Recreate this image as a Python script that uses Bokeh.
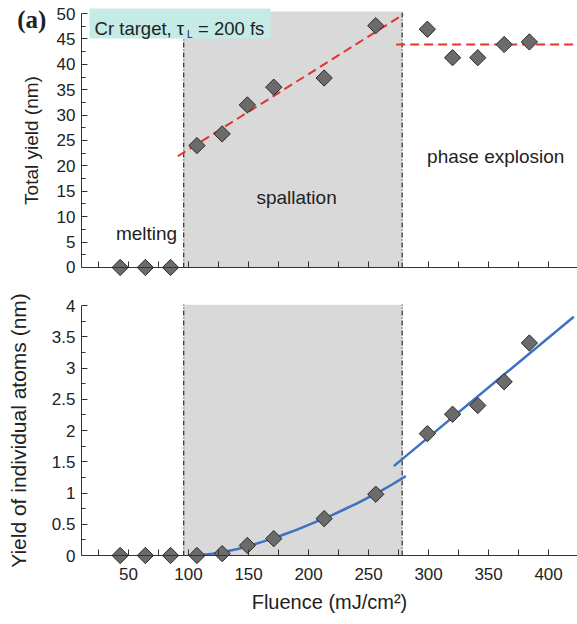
import numpy as np
from bokeh.plotting import figure
from bokeh.layouts import column
from bokeh.models import (FixedTicker, BoxAnnotation, Label, Range1d,
                          CustomJSTickFormatter)
from bokeh.embed import file_html
from bokeh.resources import INLINE

# ---------------- data ----------------
fluence = [43, 64, 85, 107, 128, 149, 171, 213, 256, 299, 320, 341, 363, 384]
total_yield = [0, 0, 0, 24.0, 26.3, 32.0, 35.5, 37.3, 47.6, 46.9, 41.3, 41.3, 43.9, 44.4]
atom_yield = [0, 0, 0, 0, 0.03, 0.16, 0.27, 0.59, 0.98, 1.95, 2.26, 2.40, 2.78, 3.40]

melt_end = 96      # melting / spallation boundary
spall_end = 278    # spallation / phase explosion boundary

spall_fit_x = [91, 279]
spall_fit_y = [21.9, 49.8]
expl_fit_x = [273, 424]
expl_fit_y = [43.9, 43.9]

atom_curve_x = [107, 120, 130, 140, 150, 160, 170, 180, 190, 200, 210, 220,
                230, 240, 250, 260, 270, 281]
atom_curve_y = [0.0, 0.03, 0.06, 0.10, 0.15, 0.21, 0.27, 0.34, 0.41, 0.49,
                0.57, 0.65, 0.74, 0.83, 0.93, 1.03, 1.14, 1.27]
atom_line_x = [271, 421]
atom_line_y = [1.43, 3.82]

x_major = [50, 100, 150, 200, 250, 300, 350, 400]
x_minor = [25, 75, 125, 175, 225, 275, 325, 375, 425]
y1_major = [0, 5, 10, 15, 20, 25, 30, 35, 40, 45, 50]
y1_minor = [2.5, 7.5, 12.5, 17.5, 22.5, 27.5, 32.5, 37.5, 42.5, 47.5]
y2_major = [0, 0.5, 1, 1.5, 2, 2.5, 3, 3.5, 4]
y2_minor = [0.25, 0.75, 1.25, 1.75, 2.25, 2.75, 3.25, 3.75]

# ---------------- style ----------------
FONT = "Liberation Sans"
AX = "#333333"
TXT = "#222222"
SHADE = "#d9d9d9"
RED = "#e2342c"
BLUE = "#3d72bf"
MK_FILL = "#6b6b6b"
MK_LINE = "#2a2a2a"

X_AXIS_START = 10.8            # where the y axis sits
x_range = Range1d(-56.7, 424.1)
y1_top = 50.4                  # top of the shaded band, panel (a) top
y2_top = 4.014


def style(p, ymax):
    p.outline_line_color = None
    p.grid.visible = False
    p.background_fill_color = "white"
    p.border_fill_color = "white"
    for ax in p.axis:
        ax.axis_line_color = AX
        ax.axis_line_width = 1
        ax.major_tick_line_color = AX
        ax.minor_tick_line_color = AX
        ax.major_tick_in = 6
        ax.major_tick_out = 0
        ax.minor_tick_in = 4
        ax.minor_tick_out = 0
        ax.major_label_text_font = FONT
        ax.major_label_text_font_size = "17px"
        ax.major_label_text_color = TXT
        ax.axis_label_text_font = FONT
        ax.axis_label_text_font_style = "normal"
        ax.axis_label_text_color = TXT
    p.xaxis.fixed_location = 0
    p.xaxis.bounds = (X_AXIS_START, x_range.end)
    p.xaxis.ticker = FixedTicker(ticks=x_major, minor_ticks=x_minor)
    p.xaxis.minor_tick_in = 6
    p.yaxis.fixed_location = X_AXIS_START
    p.yaxis.bounds = (0, ymax)
    p.yaxis.major_label_standoff = 6
    p.yaxis.formatter = CustomJSTickFormatter(code="return tick.toString();")


def region(p, top):
    p.add_layout(BoxAnnotation(left=melt_end, right=spall_end, bottom=0, top=top,
                               fill_color=SHADE, fill_alpha=1,
                               line_color=None, level="image"))
    p.segment(x0=[melt_end, spall_end], y0=[0, 0],
              x1=[melt_end, spall_end], y1=[top, top],
              line_color="black", line_width=1, line_dash="5 2 1 2")


# ---------------- top panel ----------------
p1 = figure(width=577, height=290, x_range=x_range,
            y_range=Range1d(-4.53, 52.56),
            output_backend="svg", toolbar_location=None, min_border=0,
            y_axis_label="Total yield (nm)")
style(p1, 50)
p1.xaxis.major_label_text_alpha = 0
p1.yaxis.ticker = FixedTicker(ticks=y1_major, minor_ticks=y1_minor)
p1.yaxis.axis_label_text_font_size = "19px"
p1.yaxis.axis_label_standoff = 12

region(p1, y1_top)
p1.line(spall_fit_x, spall_fit_y, line_color=RED, line_width=2, line_dash="9 5")
p1.line(expl_fit_x, expl_fit_y, line_color=RED, line_width=2, line_dash="9 5")
p1.scatter(fluence, total_yield, marker="square", size=11.5, angle=np.pi / 4,
           fill_color=MK_FILL, line_color=MK_LINE, line_width=1)

p1.add_layout(BoxAnnotation(left=17.5, right=168.3, bottom=45.1, top=51.0,
                            fill_color="#c4ebe6", fill_alpha=1, line_color=None))
lbl = dict(text_font=FONT, text_color=TXT)
p1.add_layout(Label(x=21.7, y=47.0, text="Cr target, τ", text_font_size="18.5px",
                    text_baseline="alphabetic", **lbl))
p1.add_layout(Label(x=98.8, y=45.96, text="L", text_font_size="10px",
                    text_baseline="alphabetic", **lbl))
p1.add_layout(Label(x=107.9, y=47.0, text="= 200 fs", text_font_size="18.5px",
                    text_baseline="alphabetic", **lbl))
p1.add_layout(Label(x=65, y=6.7, text="melting", text_font_size="19px",
                    text_align="center", text_baseline="middle", **lbl))
p1.add_layout(Label(x=190, y=13.8, text="spallation", text_font_size="19px",
                    text_align="center", text_baseline="middle", **lbl))
p1.add_layout(Label(x=356, y=21.9, text="phase explosion", text_font_size="19px",
                    text_align="center", text_baseline="middle", **lbl))
p1.add_layout(Label(x=-42.8, y=48.9, text="(a)", text_font="Liberation Serif",
                    text_font_style="bold", text_font_size="25px",
                    text_color=TXT, text_baseline="alphabetic"))

# ---------------- bottom panel ----------------
p2 = figure(width=577, height=334, x_range=x_range,
            y_range=Range1d(-1.104, 4.24),
            output_backend="svg", toolbar_location=None, min_border=0,
            x_axis_label="Fluence (mJ/cm²)",
            y_axis_label="Yield of individual atoms (nm)")
style(p2, 4)
p2.xaxis.major_label_standoff = 12
p2.xaxis.axis_label_standoff = 8
p2.xaxis.axis_label_text_font_size = "20px"
p2.yaxis.ticker = FixedTicker(ticks=y2_major, minor_ticks=y2_minor)
p2.yaxis.axis_label_text_font_size = "21px"
p2.yaxis.axis_label_standoff = 19

region(p2, y2_top)
p2.line(atom_curve_x, atom_curve_y, line_color=BLUE, line_width=2.5)
p2.line(atom_line_x, atom_line_y, line_color=BLUE, line_width=2.5)
p2.scatter(fluence, atom_yield, marker="square", size=11.5, angle=np.pi / 4,
           fill_color=MK_FILL, line_color=MK_LINE, line_width=1)

layout = column(p1, p2, spacing=0)
open("out.html", "w").write(file_html(layout, INLINE))
